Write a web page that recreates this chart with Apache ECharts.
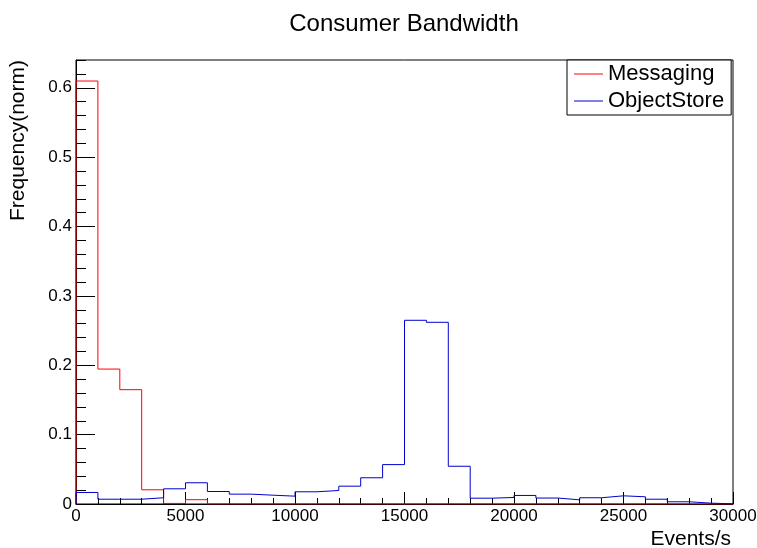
<!DOCTYPE html>
<html>
<head>
<meta charset="utf-8">
<title>Consumer Bandwidth</title>
<script src="https://cdn.jsdelivr.net/npm/echarts@6/dist/echarts.min.js"></script>
<style>
  html, body { margin: 0; padding: 0; background: #fff; }
  #chart { width: 757px; height: 548px; }
</style>
</head>
<body>
<div id="chart"></div>
<script>
// Histogram bins: 30 bins of 1000 events/s from 0 to 30000
const binEdges = [0, 1000, 2000, 3000, 4000, 5000, 6000, 7000, 8000, 9000,
  10000, 11000, 12000, 13000, 14000, 15000, 16000, 17000, 18000, 19000,
  20000, 21000, 22000, 23000, 24000, 25000, 26000, 27000, 28000, 29000, 30000];

const messaging = [0.6097, 0.1945, 0.1648, 0.0205, 0.0008, 0.0062, 0, 0, 0, 0,
  0, 0, 0, 0, 0, 0, 0, 0, 0, 0,
  0, 0, 0, 0, 0, 0, 0, 0, 0, 0];

const objectStore = [0.0166, 0.0069, 0.0069, 0.009, 0.0219, 0.0306, 0.018, 0.0142, 0.0127, 0.0113,
  0.0176, 0.0195, 0.0257, 0.0378, 0.0568, 0.2648, 0.2619, 0.0544, 0.0084, 0.0094,
  0.0123, 0.0086, 0.006, 0.009, 0.0118, 0.0104, 0.0069, 0.0032, 0.0012, 0.0003];

const xTicks = { min: 0, max: 30000, step: 5000 };
const yTicks = { min: 0, max: 0.64, step: 0.1, minorStep: 0.02 };

const FONT = '"Liberation Sans", Arial, Helvetica, sans-serif';

// ROOT-style outline: (edge, value) pairs drawn as a step line, closed to zero at both ends
function histPath(vals) {
  const pts = [[binEdges[0], 0]];
  vals.forEach((v, i) => pts.push([binEdges[i], v]));
  pts.push([binEdges[binEdges.length - 1], vals[vals.length - 1]]);
  pts.push([binEdges[binEdges.length - 1], 0]);
  return pts;
}

const chart = echarts.init(document.getElementById('chart'), null, { renderer: 'canvas' });

const tickLine = { color: '#000', width: 1 };

chart.setOption({
  animation: false,
  backgroundColor: '#fff',
  grid: {
    left: 76, right: 24, top: 60, bottom: 44, outerBoundsMode: 'none',
    show: true, borderColor: '#000', borderWidth: 1,
  },
  xAxis: {
    type: 'value', min: xTicks.min, max: xTicks.max, interval: xTicks.step,
    axisLine: { lineStyle: tickLine },
    axisTick: { inside: true, length: 12, lineStyle: tickLine },
    minorTick: { show: true, splitNumber: 5, length: 6, lineStyle: tickLine },
    splitLine: { show: false },
    axisLabel: {
      color: '#000', fontFamily: FONT, fontSize: 17, margin: 4,
      formatter: (v) => String(v),
    },
  },
  yAxis: [
    {
      type: 'value', min: yTicks.min, max: yTicks.max, interval: yTicks.step,
      axisLine: { lineStyle: tickLine },
      axisTick: { inside: true, length: 19, lineStyle: tickLine },
      splitLine: { show: false },
      axisLabel: { color: '#000', fontFamily: FONT, fontSize: 17, margin: 4, showMaxLabel: false },
    },
    {
      // fine ticks only, laid over the main axis
      type: 'value', position: 'left', min: yTicks.min, max: yTicks.max, interval: yTicks.minorStep,
      axisLine: { show: false },
      axisTick: { inside: true, length: 10, lineStyle: tickLine },
      splitLine: { show: false },
      axisLabel: { show: false },
    },
  ],
  legend: {
    orient: 'vertical', left: 567, top: 60,
    backgroundColor: '#fff', borderColor: '#000', borderWidth: 1,
    padding: [3, 7, 3, 7], itemGap: 5, itemWidth: 29, itemHeight: 1, icon: 'rect',
    textStyle: { color: '#000', fontFamily: FONT, fontSize: 22 },
    data: ['Messaging', 'ObjectStore'],
  },
  series: [
    {
      name: 'Messaging', type: 'line', step: 'end', symbol: 'none',
      color: '#ff0000', lineStyle: { color: '#ff0000', width: 1 },
      data: histPath(messaging),
    },
    {
      name: 'ObjectStore', type: 'line', step: 'end', symbol: 'none',
      color: '#0000cc', lineStyle: { color: '#0000cc', width: 1 },
      data: histPath(objectStore),
    },
  ],
  graphic: [
    { type: 'text', x: 404, y: 24,
      style: { text: 'Consumer Bandwidth', fill: '#000', font: '24px ' + FONT, align: 'center', verticalAlign: 'middle' } },
    { type: 'text', x: 18, y: 60, rotation: Math.PI / 2,
      style: { text: 'Frequency(norm)', fill: '#000', font: '21px ' + FONT, align: 'right', verticalAlign: 'middle' } },
    { type: 'text', x: 731, y: 539,
      style: { text: 'Events/s', fill: '#000', font: '21px ' + FONT, align: 'right', verticalAlign: 'middle' } },
  ],
});
</script>
</body>
</html>
